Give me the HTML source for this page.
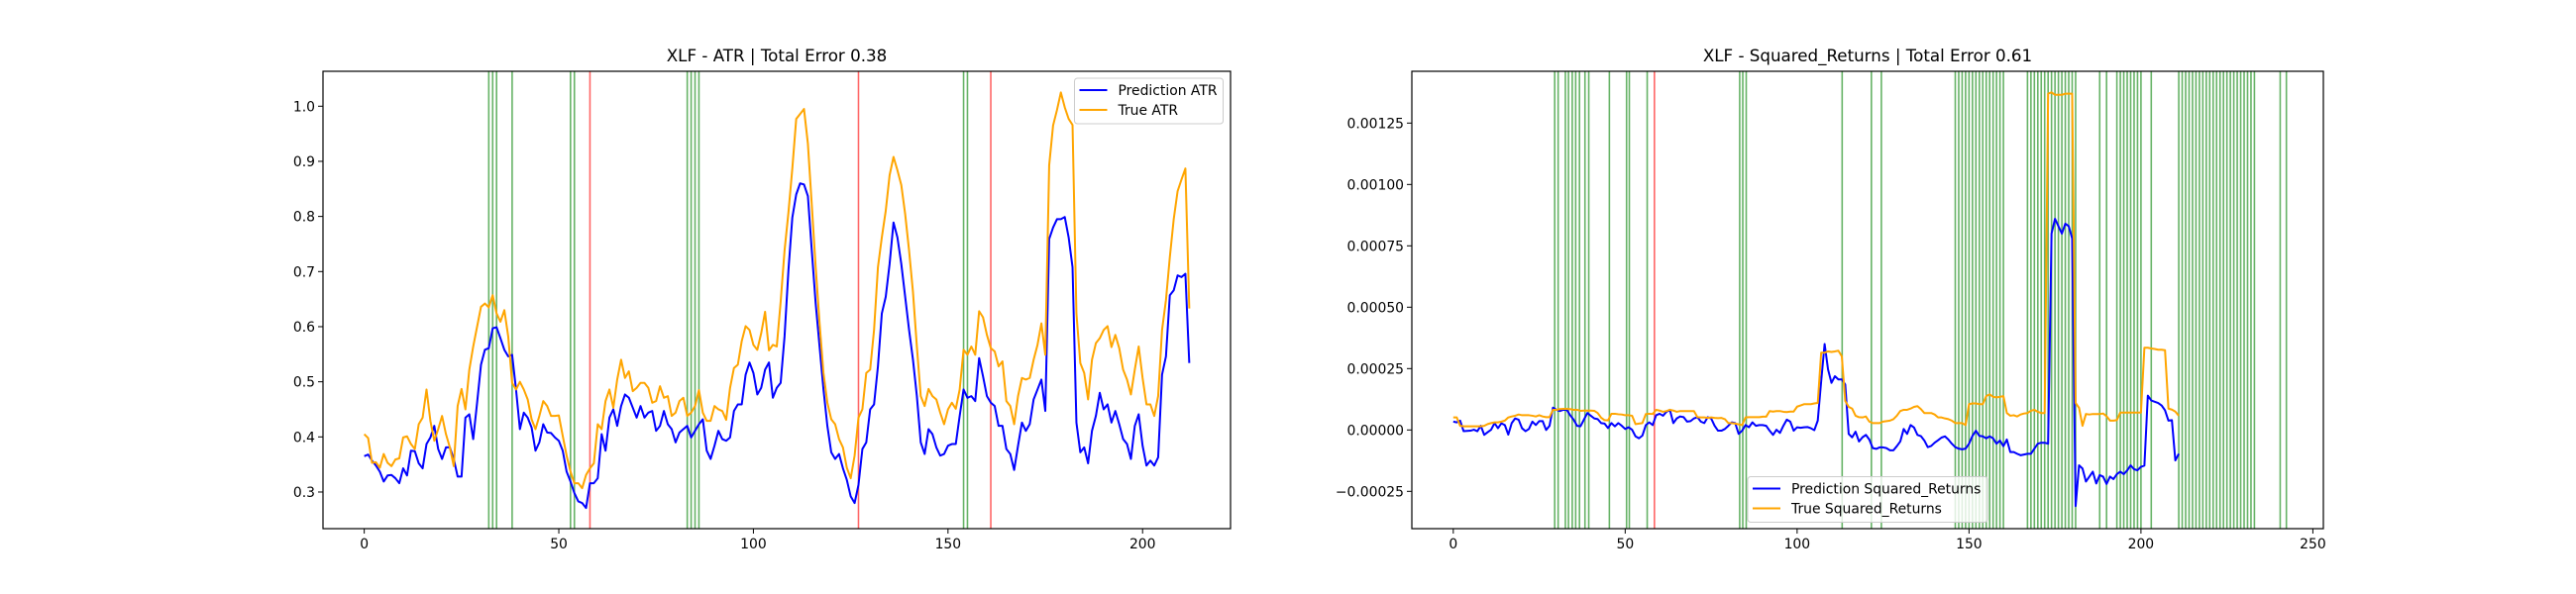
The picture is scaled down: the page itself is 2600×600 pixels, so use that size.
<!DOCTYPE html>
<html><head><meta charset="utf-8">
<style>
html,body{margin:0;padding:0;background:#fff;}
svg{display:block;font-family:"DejaVu Sans","Liberation Sans",sans-serif;}
</style></head>
<body>
<svg id="fig" width="2600" height="600" viewBox="0 0 2600 600" xmlns="http://www.w3.org/2000/svg">
<rect width="2600" height="600" fill="#fff"/>
</svg>
<script>
// ---------- Left chart data (ATR) ----------
const atrPred = [0.365,0.368,0.357,0.348,0.337,0.319,0.33,0.331,0.325,0.316,0.343,0.33,0.375,0.374,0.352,0.343,0.387,0.399,0.42,0.378,0.36,0.381,0.381,0.36,0.328,0.328,0.435,0.441,0.396,0.462,0.531,0.558,0.561,0.597,0.599,0.579,0.558,0.546,0.549,0.486,0.414,0.444,0.435,0.417,0.375,0.39,0.423,0.408,0.407,0.399,0.393,0.375,0.337,0.319,0.298,0.283,0.28,0.271,0.316,0.316,0.325,0.405,0.375,0.435,0.45,0.42,0.456,0.477,0.471,0.453,0.435,0.456,0.435,0.444,0.447,0.411,0.42,0.447,0.423,0.414,0.39,0.408,0.414,0.42,0.399,0.411,0.423,0.432,0.375,0.36,0.384,0.411,0.396,0.393,0.399,0.447,0.459,0.459,0.513,0.535,0.516,0.477,0.489,0.522,0.535,0.471,0.489,0.498,0.582,0.702,0.798,0.84,0.86,0.858,0.837,0.738,0.642,0.564,0.486,0.42,0.372,0.36,0.369,0.343,0.322,0.292,0.28,0.313,0.378,0.39,0.45,0.459,0.528,0.624,0.654,0.714,0.789,0.762,0.714,0.654,0.594,0.54,0.474,0.39,0.369,0.414,0.405,0.381,0.366,0.369,0.384,0.387,0.387,0.438,0.486,0.471,0.474,0.465,0.543,0.51,0.474,0.462,0.456,0.42,0.42,0.378,0.369,0.34,0.384,0.426,0.411,0.423,0.468,0.486,0.504,0.447,0.759,0.78,0.795,0.795,0.799,0.762,0.708,0.426,0.372,0.381,0.352,0.411,0.438,0.48,0.45,0.459,0.426,0.447,0.423,0.396,0.387,0.36,0.42,0.441,0.384,0.348,0.357,0.348,0.363,0.513,0.546,0.657,0.666,0.693,0.69,0.696,0.534];
const atrTrue = [0.405,0.398,0.353,0.354,0.344,0.369,0.353,0.347,0.359,0.361,0.399,0.401,0.387,0.378,0.423,0.435,0.486,0.429,0.393,0.414,0.438,0.405,0.381,0.347,0.456,0.487,0.45,0.522,0.564,0.6,0.636,0.642,0.635,0.657,0.624,0.609,0.63,0.582,0.498,0.486,0.5,0.486,0.468,0.432,0.414,0.438,0.465,0.456,0.438,0.438,0.439,0.402,0.366,0.337,0.316,0.316,0.307,0.331,0.343,0.352,0.423,0.414,0.465,0.486,0.453,0.504,0.54,0.507,0.519,0.483,0.489,0.498,0.498,0.489,0.462,0.465,0.492,0.471,0.474,0.438,0.444,0.465,0.471,0.438,0.444,0.456,0.485,0.444,0.429,0.429,0.456,0.45,0.447,0.431,0.489,0.525,0.531,0.574,0.601,0.594,0.567,0.558,0.588,0.627,0.557,0.567,0.564,0.645,0.738,0.807,0.887,0.977,0.986,0.995,0.932,0.821,0.708,0.606,0.516,0.462,0.432,0.423,0.396,0.381,0.344,0.325,0.366,0.435,0.45,0.516,0.522,0.594,0.708,0.762,0.81,0.875,0.908,0.884,0.857,0.804,0.738,0.663,0.564,0.474,0.456,0.487,0.474,0.468,0.444,0.423,0.45,0.462,0.451,0.486,0.558,0.549,0.564,0.549,0.628,0.617,0.585,0.561,0.555,0.528,0.537,0.465,0.456,0.423,0.474,0.507,0.504,0.507,0.54,0.567,0.606,0.549,0.893,0.965,0.993,1.025,0.998,0.977,0.966,0.624,0.534,0.516,0.468,0.54,0.57,0.579,0.594,0.601,0.563,0.585,0.561,0.522,0.504,0.477,0.522,0.564,0.507,0.459,0.459,0.438,0.474,0.594,0.648,0.726,0.795,0.846,0.867,0.887,0.633];
const atrGreenLines = [32,33,34,38,53,54,83,84,85,86,154,155];
const atrRedLines = [58,127,161];
const atrXTicks = [0,50,100,150,200];
const atrYTicks = [0.3,0.4,0.5,0.6,0.7,0.8,0.9,1.0];
const atrYTickLabels = ["0.3","0.4","0.5","0.6","0.7","0.8","0.9","1.0"];

// ---------- Right chart data (Squared returns, units 1e-5) ----------
const srPred = [3.4,3.1,3.8,-0.5,-0.4,-0.3,0.1,-0.5,1.7,-2,-0.9,0.1,2.8,0.7,2.7,2,-1.9,2.8,4.7,4.2,0.7,-0.5,0.4,3.4,2,3.6,3.6,0,1.7,9.1,8.2,7.7,8.2,8.2,6,4.2,1.7,1.5,4.2,6.9,5.8,4.7,4.4,2.8,2.6,0.8,2.8,1.5,2.8,1.7,0.4,1.1,0.1,-2.6,-3.4,-2.3,2,3.1,2,6,6.6,5.8,7.4,8.2,2.8,4.7,5.5,5.2,3.4,3.6,4.7,5.2,3.4,2.8,5.2,4.7,1.7,-0.3,-0.3,0.4,1.7,3.1,2.8,-1.6,-0.3,2,1.1,3.1,1.7,2,2,1.7,-0.3,-2,0.1,-1.2,1.7,4.2,3.4,-0.3,1.1,0.9,1.1,1.2,0.7,-0.1,3.8,19.9,35,24.6,19.2,21.9,20.6,20.6,18.5,-1.6,-3,-0.7,-4.7,-3,-2,-3.9,-7.4,-7.7,-7.1,-7.1,-7.4,-8.3,-8.3,-6.6,-4.7,0.4,-1.6,2,1,-2,-2.5,-4.3,-7,-6.5,-5.2,-4.2,-3.1,-2.6,-3.9,-5.6,-7,-7.6,-7.9,-7.6,-5.6,-2.4,-0.3,-2.4,-2.6,-3.4,-2.6,-3.4,-5.6,-4.3,-6.6,-3.9,-9,-9,-9.7,-10.3,-10,-9.7,-9.7,-7.6,-5.6,-5.2,-5.2,-5.6,80,86,83,80,84,83,78,-31,-14.4,-15.7,-21,-19,-17,-21.8,-18.4,-19,-22,-19,-20,-18,-17,-18,-16.5,-14.4,-16,-16.4,-15,-14.5,14,12,11.5,11,10,8,3.8,4,-12.4,-9.7];
const srTrue = [5.1,5.1,1.7,1.5,1.5,1.5,1.5,1.5,1.5,1.7,2.4,2.8,3.1,3.1,3.4,3.8,5.1,5.5,5.8,6.3,6,6,6,5.8,5.5,6,5.5,5.2,5.2,8.2,8.2,8.5,8.6,8.6,8.5,8.2,8.2,7.8,7.9,7.9,7.9,7.8,6.9,5,4,3.9,6.6,6.6,6.4,6.3,6,6,5.8,2.4,2.6,2.8,6.5,6.6,6.5,8.2,7.9,7.4,7.7,8.2,7.9,7.4,7.7,7.7,7.7,7.7,7.7,5.2,5.1,5.1,4.9,5.1,4.9,4.8,4.9,4.4,2.8,2.8,2.6,2.3,2,5.1,5.2,5.2,5.2,5.2,5.4,5.4,7.7,7.5,7.7,7.7,7.4,7.3,7.5,7.5,9.5,10,10.5,10.5,10.5,10.8,11,31.5,31.5,32,31.8,32,32.3,30,11.8,9.4,8.7,5.8,5.2,5.1,5.5,3.4,2.8,2.8,2.8,3.4,3.6,3.8,4.4,5.8,7.7,8.2,8.2,8.7,9.4,9.7,8.5,6.9,6.9,6.9,6.3,5.1,5.1,4.7,4.4,3.8,2.8,2.8,2.8,2,10.5,10.8,10.8,10.5,10.5,13.8,14.5,13.5,13.3,13.5,13.8,6.9,5.8,6,5.5,6.3,6.7,6.9,7.8,8.2,7.4,6.9,6.9,137,137.5,136.5,136.5,136.5,137,137,137,11,9,1.7,6.5,6.3,6.5,6.5,6.5,6.7,5.6,3.8,3.8,4,7.1,7.1,7.1,7.1,7.1,7.1,7.1,33.5,33.5,33.2,33,32.7,32.7,32.5,8.7,8.3,7.5,5.8];
const srGreenLines = [29.5,30.5,32.6,33.5,34.6,35.6,36.7,38.3,39.4,45.4,50.4,51.2,56.4,83.3,84.2,85.2,113.1,121.6,124.5,146,147,148,149,150,151,152,153,154,155,156,157,158,159,160,167,168,169,170,171,172,173,174,175,176,177,178,179,180,181,188,190,193,194,195,196,197,198,199,200,203,211,212,213,214,215,216,217,218,219,220,221,222,223,224,225,226,227,228,229,230,231,232,233,240.5,242.3];
const srRedLines = [58.5];
const srXTicks = [0,50,100,150,200,250];
const srYTicks = [-0.00025,0,0.00025,0.0005,0.00075,0.001,0.00125];
const srYTickLabels = ["\u22120.00025","0.00000","0.00025","0.00050","0.00075","0.00100","0.00125"];

const NS = "http://www.w3.org/2000/svg";
const fig = document.getElementById("fig");
function mk(tag, attrs, parent){
  const e = document.createElementNS(NS, tag);
  for (const k in attrs) e.setAttribute(k, attrs[k]);
  (parent||fig).appendChild(e);
  return e;
}

function drawChart(cfg){
  const g = mk("g", {});
  
  
  const L=cfg.left,R=cfg.right,T=cfg.top,B=cfg.bottom;
  const sx = v => L + (v - cfg.xmin)/(cfg.xmax-cfg.xmin)*(R-L);
  const sy = v => B - (v - cfg.ymin)/(cfg.ymax-cfg.ymin)*(B-T);
  const clipId = cfg.name + "-clip";
  const defs = mk("defs", {}, g);
  const cp = mk("clipPath", {id: clipId}, defs);
  mk("rect", {x:L,y:T,width:R-L,height:B-T}, cp);
  const plot = mk("g", {"clip-path":"url(#"+clipId+")"}, g);
  
  
  cfg.green.forEach(v=>{
    const l = mk("line",{x1:sx(v),x2:sx(v),y1:T,y2:B,stroke:"#008000","stroke-opacity":0.6,"stroke-width":1.6}, plot);
    
    
  });
  cfg.red.forEach(v=>{
    const l = mk("line",{x1:sx(v),x2:sx(v),y1:T,y2:B,stroke:"#ff0000","stroke-opacity":0.6,"stroke-width":1.6}, plot);
    
    
  });
  const pathOf = arr => arr.map((v,i)=>(i?"L":"M")+sx(i).toFixed(2)+" "+sy(v*cfg.scale).toFixed(2)).join(" ");
  const pl = mk("path",{d:pathOf(cfg.pred),fill:"none",stroke:"#0000ff","stroke-width":2,"stroke-linejoin":"round"}, plot);
  
  
  const tl = mk("path",{d:pathOf(cfg.truth),fill:"none",stroke:"#ffa500","stroke-width":2,"stroke-linejoin":"round"}, plot);
  
  
  const frame = mk("rect",{x:L,y:T,width:R-L,height:B-T,fill:"none",stroke:"#000","stroke-width":1.2}, g);
  
  
  cfg.xticks.forEach(v=>{
    const x = sx(v);
    mk("line",{x1:x,x2:x,y1:B,y2:B+5,stroke:"#000","stroke-width":1}, g);
    const t = mk("text",{x:x,y:B+20,"font-size":"13.9px","text-anchor":"middle",fill:"#000"}, g);
    t.textContent = String(v);
    
    
  });
  cfg.yticks.forEach((v,i)=>{
    const y = sy(v);
    mk("line",{x1:L-5,x2:L,y1:y,y2:y,stroke:"#000","stroke-width":1}, g);
    const t = mk("text",{x:L-8,y:y+5,"font-size":"13.9px","text-anchor":"end",fill:"#000"}, g);
    t.textContent = cfg.ylabels[i];
    
    
  });
  const title = mk("text",{x:(L+R)/2,y:T-10,"font-size":"16.7px","text-anchor":"middle",fill:"#000"}, g);
  title.textContent = cfg.title;
  
  
  const lg = mk("g",{}, g);
  
  
  const lb = cfg.legend;
  mk("rect",{x:lb.x,y:lb.y,width:lb.w,height:46,rx:3,fill:"#fff","fill-opacity":0.8,stroke:"#cccccc","stroke-width":1}, lg);
  [["#0000ff",cfg.predLabel],["#ffa500",cfg.trueLabel]].forEach((e,i)=>{
    const yy = lb.y + 12 + i*20;
    mk("line",{x1:lb.x+5,x2:lb.x+33,y1:yy,y2:yy,stroke:e[0],"stroke-width":2}, lg);
    const t = mk("text",{x:lb.x+44,y:yy+5,"font-size":"13.9px",fill:"#000"}, lg);
    t.textContent = e[1];
    
    
  });
}

drawChart({name:"atr-chart",left:326,right:1242,top:72,bottom:534,xmin:-10.6,xmax:222.6,ymin:0.2335,ymax:1.0634,scale:1,
  pred:atrPred,truth:atrTrue,green:atrGreenLines,red:atrRedLines,xticks:atrXTicks,yticks:atrYTicks,ylabels:atrYTickLabels,
  title:"XLF - ATR | Total Error 0.38",predLabel:"Prediction ATR",trueLabel:"True ATR",legend:{x:1084.5,y:79,w:150}});
drawChart({name:"squared-returns-chart",left:1425,right:2345,top:72,bottom:534,xmin:-12.05,xmax:253.05,ymin:-0.000402,ymax:0.001461,scale:1e-5,
  pred:srPred,truth:srTrue,green:srGreenLines,red:srRedLines,xticks:srXTicks,yticks:srYTicks,ylabels:srYTickLabels,
  title:"XLF - Squared_Returns | Total Error 0.61",predLabel:"Prediction Squared_Returns",trueLabel:"True Squared_Returns",legend:{x:1764,y:481.5,w:242}});
</script>
</body></html>
